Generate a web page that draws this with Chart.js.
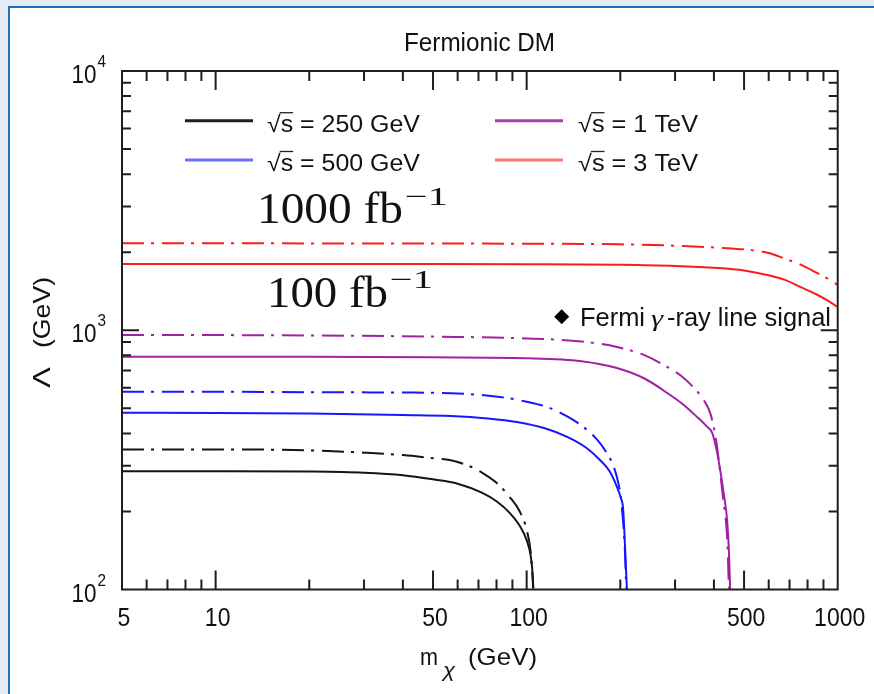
<!DOCTYPE html>
<html><head><meta charset="utf-8">
<script src="https://cdn.jsdelivr.net/npm/chart.js@4"></script>
<style>
html,body{margin:0;padding:0;background:#e4ebf3;}
canvas{display:block;}
</style>
</head><body>
<canvas id="c" width="874" height="694"></canvas>
<script>
// ---------- data ----------
const mass250_100  = [5, 10, 20, 30, 40, 50, 60, 72, 80, 88, 95, 100, 103, 104.5, 105];
const lam250_100   = [286, 286, 285, 282, 276, 266, 256, 236, 219, 198, 176, 155, 135, 115, 101];
const mass250_1000 = [5, 10, 20, 30, 40, 50, 57, 65, 72, 80, 88, 95, 100, 103, 105];
const lam250_1000  = [347, 347, 344, 337, 330, 321, 315, 300, 282, 258, 228, 200, 170, 140, 101];

const mass500_100  = [5, 10, 20, 40, 57, 75, 93, 115, 135, 155, 172, 185, 195, 201, 204, 206, 208, 210];
const lam500_100   = [481, 480, 477, 471, 467, 457, 443, 418, 388, 353, 316, 285, 249, 225, 208, 170, 130, 100.5];
const mass500_1000 = [5, 10, 20, 40, 57, 82, 100, 119, 135, 152, 168, 181, 190, 197, 201, 204, 207, 209];
const lam500_1000  = [579, 579, 577, 575, 572, 553, 530, 501, 465, 424, 380, 336, 300, 258, 225, 185, 140, 101];

const mass1T_100   = [5, 10, 20, 50, 100, 150, 195, 240, 283, 320, 353, 380, 395, 408, 419, 430, 441, 447, 451];
const lam1T_100    = [791, 791, 790, 786, 780, 760, 715, 650, 573, 515, 463, 425, 402, 345, 289, 235, 185, 140, 100.5];
const mass1T_1000  = [5, 10, 20, 50, 100, 150, 195, 240, 283, 315, 343, 370, 389, 403, 412, 419, 430, 441, 447];
const lam1T_1000   = [959, 958, 955, 945, 930, 905, 862, 800, 722, 665, 604, 540, 480, 402, 335, 282, 215, 159, 101];

const mass3T_100   = [5, 10, 20, 50, 100, 200, 300, 409, 500, 593, 680, 757, 850, 930, 1000];
const lam3T_100    = [1802, 1802, 1801, 1800, 1797, 1788, 1770, 1739, 1700, 1634, 1560, 1469, 1380, 1300, 1229];
const mass3T_1000  = [5, 10, 20, 50, 100, 200, 318, 420, 523, 600, 668, 760, 858, 930, 1000];
const lam3T_1000   = [2165, 2165, 2163, 2160, 2157, 2145, 2113, 2080, 2040, 1985, 1900, 1790, 1663, 1580, 1495];

const legendLabels = ['\u221As = 250 GeV', '\u221As = 500 GeV', '\u221As = 1 TeV', '\u221As = 3 TeV'];
const xTickLabels  = [5, 10, 50, 100, 500, 1000];
const xMajorTicks  = [10, 50, 100, 500];
const xMinorTicks  = [6, 7, 8, 9, 20, 30, 40, 60, 70, 80, 90, 200, 300, 400, 600, 700, 800, 900];
const yTickLabels  = [100, 1000, 10000];
const yTickExps    = ['2', '3', '4'];
const yMajorTicks  = [1000];
const yMinorTicks  = [200, 300, 400, 500, 600, 700, 800, 900, 2000, 3000, 4000, 5000, 6000, 7000, 8000, 9000];

// ---------- styles ----------
const C_BLACK = '#141414', C_BLUE = '#1616ff', C_PURPLE = '#a21fa6', C_RED = '#ff1a1a';
const DASHDOT = [22, 7, 3, 8];
const pts = (m, l) => m.map((v, i) => ({x: v, y: l[i]}));
function ds(m, l, color, dashed) {
  return {data: pts(m, l), borderColor: color, borderWidth: 2, pointRadius: 0,
          borderDash: dashed ? DASHDOT : [], cubicInterpolationMode: 'monotone', fill: false};
}

const SANS = '"Liberation Sans", Arial, sans-serif';
const SERIF = '"Liberation Serif", "Times New Roman", serif';

function fitText(ctx, t, font, x, y, w, align) {
  ctx.font = font;
  const mw = ctx.measureText(t).width;
  const sx = w ? w / mw : 1;
  ctx.save();
  ctx.translate(x, y);
  ctx.scale(sx, 1);
  ctx.textAlign = 'left';
  ctx.textBaseline = 'alphabetic';
  let ox = 0;
  if (align === 'center') ox = -mw / 2; else if (align === 'right') ox = -mw;
  ctx.fillText(t, ox, 0);
  ctx.restore();
  return sx;
}

const framePlugin = {
  id: 'frame',
  beforeDraw(chart) {
    const ctx = chart.ctx;
    ctx.save();
    ctx.fillStyle = '#e4ebf3';
    ctx.fillRect(0, 0, 874, 694);
    ctx.fillStyle = '#ffffff';
    ctx.fillRect(9, 7, 865, 687);
    ctx.fillStyle = '#1f6fc0';
    ctx.fillRect(8, 6, 2, 688);
    ctx.fillRect(8, 6, 866, 2);
    ctx.restore();
  },
  afterDraw(chart) {
    const ctx = chart.ctx;
    const xs = chart.scales.x, ys = chart.scales.y;
    const {left: L, right: R, top: T, bottom: B} = chart.chartArea;
    ctx.save();
    // box
    ctx.strokeStyle = '#1e1e1e';
    ctx.lineWidth = 2;
    ctx.strokeRect(L, T, R - L, B - T);
    // ticks (inward, mirrored)
    ctx.beginPath();
    const xt = (v, len) => { const p = xs.getPixelForValue(v); ctx.moveTo(p, B); ctx.lineTo(p, B - len); ctx.moveTo(p, T); ctx.lineTo(p, T + len); };
    const yt = (v, len) => { const p = ys.getPixelForValue(v); ctx.moveTo(L, p); ctx.lineTo(L + len, p); ctx.moveTo(R, p); ctx.lineTo(R - len, p); };
    xMinorTicks.forEach(v => xt(v, 10));
    xMajorTicks.forEach(v => xt(v, 19));
    yMinorTicks.forEach(v => yt(v, 9));
    yMajorTicks.forEach(v => yt(v, 17));
    ctx.stroke();

    ctx.fillStyle = '#111';
    // x tick labels
    xTickLabels.forEach(v => {
      const p = xs.getPixelForValue(v) + 2;
      ctx.font = '25px ' + SANS;
      const w = ctx.measureText(String(v)).width * 0.92;
      fitText(ctx, String(v), '25px ' + SANS, p, 626, w, 'center');
    });
    // y tick labels
    yTickLabels.forEach((v, i) => {
      const p = ys.getPixelForValue(v);
      ctx.font = '17px ' + SANS;
      const ew = ctx.measureText(yTickExps[i]).width * 0.9;
      fitText(ctx, yTickExps[i], '17px ' + SANS, 106, p - 4, ew, 'right');
      ctx.font = '25px ' + SANS;
      const bw = ctx.measureText('10').width * 0.9;
      fitText(ctx, '10', '25px ' + SANS, 106 - ew - 1, p + 12, bw, 'right');
    });
    // title
    fitText(ctx, 'Fermionic DM', '26px ' + SANS, 404, 50.7, 151, 'left');
    // x axis title
    fitText(ctx, 'm', '24px ' + SANS, 420, 665, 18, 'left');
    fitText(ctx, '\u03C7', 'italic 20px ' + SANS, 443, 677, 12, 'left');
    fitText(ctx, '(GeV)', '24px ' + SANS, 468, 665, 69, 'left');
    // y axis title (rotated)
    ctx.save();
    ctx.translate(50, 388);
    ctx.rotate(-Math.PI / 2);
    fitText(ctx, '\u039B', '24px ' + SANS, 0, 0, 21, 'left');
    fitText(ctx, '(GeV)', '24px ' + SANS, 40, 0, 71, 'left');
    ctx.restore();

    // legend
    const legend = [
      {c: '#1e1e1e', x0: 185, x1: 253, y: 120.7, tx: 267, ty: 131.7, tw: 153, t: legendLabels[0]},
      {c: '#6f6fff', x0: 185, x1: 253, y: 160, tx: 267, ty: 170.5, tw: 153, t: legendLabels[1]},
      {c: '#a83cb0', x0: 495, x1: 563, y: 120.7, tx: 578, ty: 131.7, tw: 120, t: legendLabels[2]},
      {c: '#ff7272', x0: 495, x1: 563, y: 160, tx: 578, ty: 170.5, tw: 120, t: legendLabels[3]}
    ];
    legend.forEach(e => {
      ctx.strokeStyle = e.c; ctx.lineWidth = 3;
      ctx.beginPath(); ctx.moveTo(e.x0, e.y); ctx.lineTo(e.x1, e.y); ctx.stroke();
      ctx.fillStyle = '#111';
      const sx = fitText(ctx, e.t, '23px ' + SANS, e.tx, e.ty, e.tw, 'left');
      // overline of the square root over "s"
      ctx.font = '23px ' + SANS;
      const a = ctx.measureText('\u221A').width * sx;
      const b = ctx.measureText('\u221As').width * sx;
      ctx.strokeStyle = '#222'; ctx.lineWidth = 1.3;
      ctx.beginPath(); ctx.moveTo(e.tx + a - 1, e.ty - 19); ctx.lineTo(e.tx + b, e.ty - 19); ctx.stroke();
    });

    // luminosity labels
    ctx.fillStyle = '#111';
    fitText(ctx, '1000 fb', '45px ' + SERIF, 257, 223.3, 146, 'left');
    fitText(ctx, '\u22121', '26px ' + SERIF, 405, 205, 43, 'left');
    fitText(ctx, '100 fb', '45px ' + SERIF, 267, 306.7, 121, 'left');
    fitText(ctx, '\u22121', '26px ' + SERIF, 390, 288, 43, 'left');

    // Fermi marker + text
    ctx.fillStyle = '#000';
    ctx.beginPath();
    ctx.moveTo(561.7, 309.2); ctx.lineTo(569.2, 316.7); ctx.lineTo(561.7, 324.2); ctx.lineTo(554.2, 316.7);
    ctx.closePath(); ctx.fill();
    ctx.fillStyle = '#111';
    fitText(ctx, 'Fermi', '25px ' + SANS, 580, 326, 65, 'left');
    fitText(ctx, '\u03B3', 'italic 24px ' + SERIF, 651, 326, 12, 'left');
    fitText(ctx, '-ray line signal', '25px ' + SANS, 667, 326, 164, 'left');
    ctx.restore();
  }
};

new Chart(document.getElementById('c'), {
  type: 'line',
  data: {
    datasets: [
      ds(mass250_100, lam250_100, C_BLACK, false),
      ds(mass250_1000, lam250_1000, C_BLACK, true),
      ds(mass500_100, lam500_100, C_BLUE, false),
      ds(mass500_1000, lam500_1000, C_BLUE, true),
      ds(mass1T_100, lam1T_100, C_PURPLE, false),
      ds(mass1T_1000, lam1T_1000, C_PURPLE, true),
      ds(mass3T_100, lam3T_100, C_RED, false),
      ds(mass3T_1000, lam3T_1000, C_RED, true)
    ]
  },
  options: {
    responsive: false,
    animation: false,
    devicePixelRatio: 1,
    layout: {padding: {left: 0, right: 36.3, top: 71, bottom: 0}},
    plugins: {legend: {display: false}, tooltip: {enabled: false}, title: {display: false}},
    scales: {
      x: {type: 'logarithmic', min: 5, max: 1000,
          ticks: {display: false}, grid: {display: false}, border: {display: false},
          afterFit(s) { s.height = 104.5; }},
      y: {type: 'logarithmic', min: 100, max: 10000,
          ticks: {display: false}, grid: {display: false}, border: {display: false},
          afterFit(s) { s.width = 122; }}
    }
  },
  plugins: [framePlugin]
});
</script>
</body></html>
